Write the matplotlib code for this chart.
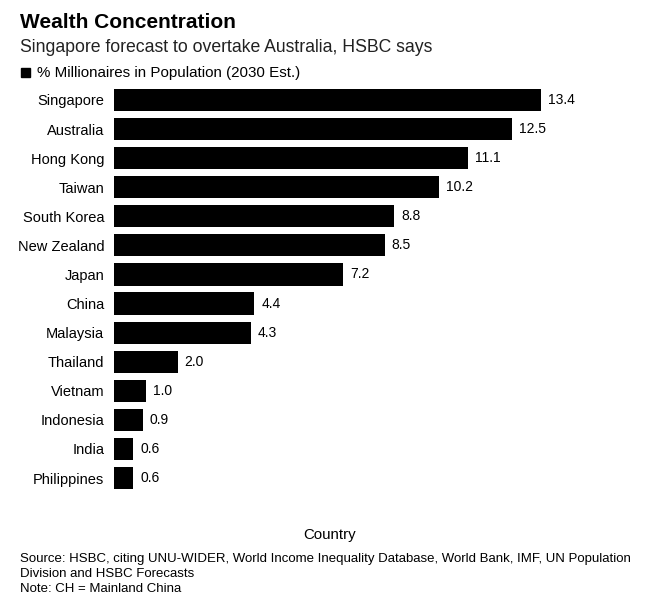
import matplotlib
matplotlib.use("Agg")
import matplotlib.pyplot as plt

countries = ["Singapore", "Australia", "Hong Kong", "Taiwan", "South Korea", "New Zealand",
             "Japan", "China", "Malaysia", "Thailand", "Vietnam", "Indonesia", "India", "Philippines"]
pct_millionaires = [13.4, 12.5, 11.1, 10.2, 8.8, 8.5, 7.2, 4.4, 4.3, 2.0, 1.0, 0.9, 0.6, 0.6]

plt.rcParams['font.family'] = ['Liberation Sans', 'DejaVu Sans']

W, H = 652, 605
fig = plt.figure(figsize=(W / 100, H / 100), dpi=100)

# axes placed in pixel terms
left, right = 114, 620
top, bottom = 82.5, 495.5
ax = fig.add_axes([left / W, 1 - bottom / H, (right - left) / W, (bottom - top) / H])

pos = list(range(len(countries)))
ax.barh(pos, pct_millionaires, height=0.76, color="black")
ax.set_xlim(0, 15.88)
ax.set_ylim(len(countries) - 0.4, -0.6)
ax.set_yticks(pos)
ax.set_yticklabels(countries, fontsize=10.5)
ax.tick_params(axis="y", length=0, pad=7)
ax.set_xticks([])
for s in ax.spines.values():
    s.set_visible(False)

for p, v in zip(pos, pct_millionaires):
    ax.text(v + 0.22, p, f"{v:.1f}", va="center", ha="left", fontsize=10)

fig.text(20 / W, 1 - 22 / H, "Wealth Concentration", fontsize=15, fontweight="heavy",
         va="center", ha="left")
fig.text(20 / W, 1 - 47 / H, "Singapore forecast to overtake Australia, HSBC says",
         fontsize=12.7, va="center", ha="left", color="#222222")
fig.patches.append(plt.Rectangle((21 / W, 1 - 77 / H), 9 / W, 9 / H, color="black",
                                 transform=fig.transFigure, figure=fig))
fig.text(37 / W, 1 - 72.5 / H, "% Millionaires in Population (2030 Est.)", fontsize=10.9,
         va="center", ha="left")

fig.text(330 / W, 1 - 535 / H, "Country", fontsize=10.8, va="center", ha="center")
src_size = 9.5
fig.text(20 / W, 1 - 559 / H,
         "Source: HSBC, citing UNU-WIDER, World Income Inequality Database, World Bank, IMF, UN Population",
         fontsize=src_size, va="center", ha="left")
fig.text(20 / W, 1 - 574 / H, "Division and HSBC Forecasts", fontsize=src_size, va="center", ha="left")
fig.text(20 / W, 1 - 589 / H, "Note: CH = Mainland China", fontsize=src_size, va="center", ha="left")

fig.savefig("out.png", dpi=100)
